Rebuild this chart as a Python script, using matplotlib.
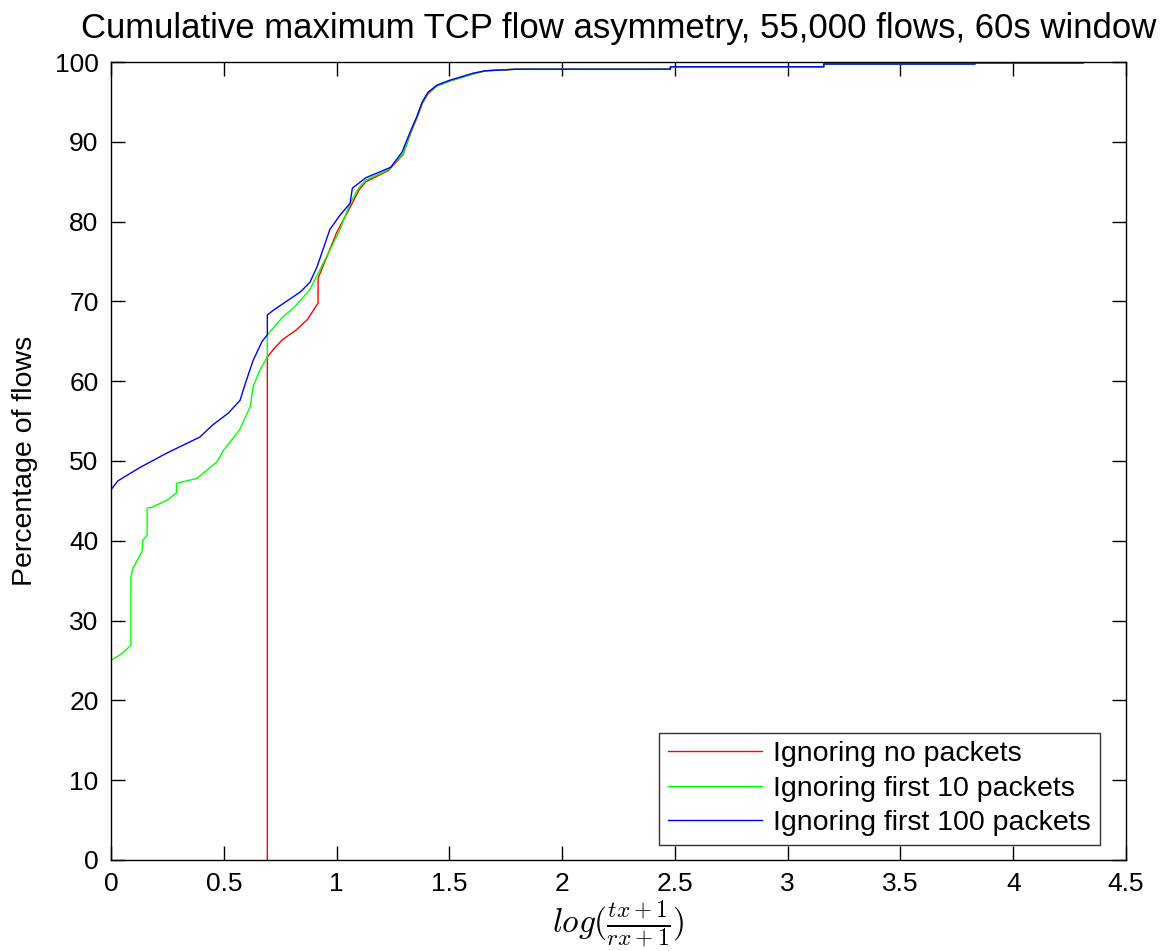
import matplotlib
matplotlib.use("Agg")
import matplotlib.pyplot as plt

plt.rcParams['font.family'] = ['Liberation Sans', 'DejaVu Sans']
plt.rcParams['mathtext.fontset'] = 'cm'

title = "Cumulative maximum TCP flow asymmetry, 55,000 flows, 60s window"
xlabel = r'$log(\frac{tx+1}{rx+1})$'
ylabel = "Percentage of flows"
labels = ["Ignoring no packets", "Ignoring first 10 packets", "Ignoring first 100 packets"]

red_x = [0.693, 0.693, 0.72, 0.76, 0.82, 0.87, 0.90, 0.918, 0.918, 0.957, 1.0, 1.06, 1.10,
         1.13, 1.23, 1.295, 1.33, 1.355, 1.38, 1.405, 1.445, 1.50, 1.547, 1.605, 1.66, 1.80,
         2.48, 2.48, 3.16, 3.16, 3.83, 3.83, 4.31]
red_y = [0, 63, 64, 65.2, 66.4, 67.7, 69, 69.8, 72.9, 75.6, 78.6, 81.8, 84,
         85, 86.4, 88.4, 91.2, 92.9, 94.8, 96, 97, 97.6, 98.0, 98.5, 98.9, 99.1,
         99.1, 99.4, 99.4, 99.75, 99.75, 99.9, 99.9]

green_x = [0, 0.05, 0.088, 0.088, 0.098, 0.137, 0.142, 0.16, 0.16, 0.18, 0.25, 0.29, 0.29,
           0.38, 0.47, 0.50, 0.57, 0.617, 0.63, 0.66, 0.693, 0.693, 0.76, 0.81, 0.88, 0.925,
           0.97, 1.015, 1.06, 1.10, 1.13, 1.23, 1.295, 1.33, 1.355, 1.38, 1.405, 1.445, 1.50,
           1.547, 1.605, 1.66, 1.80, 2.48, 2.48, 3.16, 3.16, 3.83, 3.83, 4.31]
green_y = [25, 25.9, 26.9, 35.5, 36.6, 38.6, 40.1, 40.7, 44.1, 44.2, 45.1, 46, 47.2,
           47.8, 49.9, 51.4, 53.9, 56.8, 59.3, 61.4, 63, 65.8, 68, 69.2, 71.4, 73.9,
           76.4, 79, 82.3, 84.3, 85.2, 86.5, 88.5, 91.3, 93, 94.9, 96.1, 97, 97.6,
           98.0, 98.5, 98.9, 99.1, 99.1, 99.4, 99.4, 99.75, 99.75, 99.9, 99.9]

blue_x = [0, 0, 0.03, 0.129, 0.248, 0.394, 0.45, 0.52, 0.572, 0.60, 0.63, 0.67, 0.693, 0.693,
          0.72, 0.84, 0.882, 0.913, 0.97, 1.015, 1.06, 1.07, 1.13, 1.24, 1.29, 1.33, 1.355,
          1.38, 1.405, 1.445, 1.50, 1.547, 1.605, 1.66, 1.80, 2.48, 2.48, 3.16, 3.16, 3.83,
          3.83, 4.31]
blue_y = [0, 46.4, 47.5, 49.2, 51, 53, 54.5, 56, 57.6, 60.1, 62.6, 65, 65.8, 68.3,
          68.9, 71.2, 72.4, 74.3, 79, 80.8, 82.3, 84.2, 85.5, 86.8, 88.7, 91.5, 93.1,
          95, 96.2, 97.1, 97.7, 98.1, 98.6, 98.9, 99.1, 99.1, 99.4, 99.4, 99.75, 99.75,
          99.9, 99.9]

xticks = [0, 0.5, 1, 1.5, 2, 2.5, 3, 3.5, 4, 4.5]
xticklabels = ["0", "0.5", "1", "1.5", "2", "2.5", "3", "3.5", "4", "4.5"]
yticks = list(range(0, 101, 10))

fig = plt.figure(figsize=(11.71, 9.51), dpi=100)
ax = fig.add_axes([0.0948, 0.0957, 0.8668, 0.8391])

ax.plot(red_x, red_y, color='#ff0000', lw=1.0, label=labels[0])
ax.plot(green_x, green_y, color='#00ff00', lw=1.0, label=labels[1])
ax.plot(blue_x, blue_y, color='#0000ff', lw=1.0, label=labels[2])

ax.set_xlim(0, 4.5)
ax.set_ylim(0, 100)
ax.set_xticks(xticks)
ax.set_xticklabels(xticklabels)
ax.set_yticks(yticks)
ax.tick_params(direction='in', length=10, width=1, top=True, right=True,
               labelsize=19, pad=9, colors='black')
for s in ax.spines.values():
    s.set_linewidth(1.0)
    s.set_color('black')

ax.set_title(title, fontsize=25, pad=17)
ax.set_xlabel(xlabel, fontsize=24, labelpad=2)
ax.set_ylabel(ylabel, fontsize=20.5, labelpad=12)

leg = ax.legend(loc='lower right', bbox_to_anchor=(0.974, 0.019), fontsize=20.5,
                handlelength=3.3, frameon=True, fancybox=False, borderpad=0.3,
                labelspacing=0.3, handletextpad=0.4, borderaxespad=0)
leg.get_frame().set_edgecolor('black')
leg.get_frame().set_linewidth(1.0)

fig.savefig("out.png", dpi=100)
